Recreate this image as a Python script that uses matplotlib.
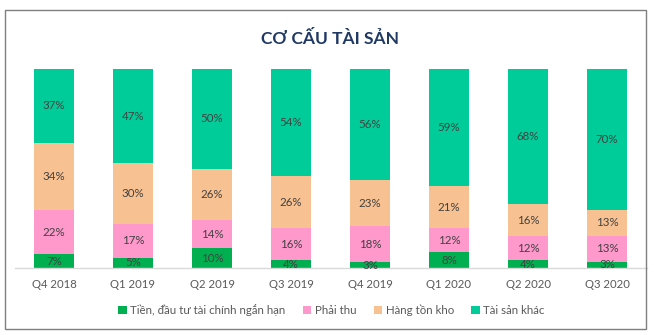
import matplotlib
matplotlib.use("Agg")
import matplotlib.pyplot as plt
import numpy as np
from matplotlib.patches import Rectangle

plt.rcParams['font.family'] = ['Lato', 'DejaVu Sans']

categories = ["Q4 2018", "Q1 2019", "Q2 2019", "Q3 2019", "Q4 2019", "Q1 2020", "Q2 2020", "Q3 2020"]
tien = [7, 5, 10, 4, 3, 8, 4, 3]
phai_thu = [22, 17, 14, 16, 18, 12, 12, 13]
hang_ton_kho = [34, 30, 26, 26, 23, 21, 16, 13]
tai_san_khac = [37, 47, 50, 54, 56, 59, 68, 70]

series_names = ["Tiền, đầu tư tài chính ngắn hạn", "Phải thu", "Hàng tồn kho", "Tài sản khác"]
colors = ["#00B050", "#FF99CC", "#F8C191", "#00CC99"]

data = np.array([tien, phai_thu, hang_ton_kho, tai_san_khac], dtype=float)
totals = data.sum(axis=0)
shares = data / totals * 100

fig = plt.figure(figsize=(6.56, 3.35), dpi=100)
ax = fig.add_axes([14.5 / 656, 67 / 335, (646.5 - 14.5) / 656, 199 / 335])

x = np.arange(len(categories))
bottom = np.zeros(len(categories))
for i, (name, col) in enumerate(zip(series_names, colors)):
    bars = ax.bar(x, shares[i], 0.506, bottom=bottom, color=col, label=name, linewidth=0)
    for j, b in enumerate(bars):
        ax.text(b.get_x() + b.get_width() / 2, bottom[j] + shares[i][j] / 2,
                f"{int(data[i][j])}%", ha="center", va="center", fontsize=8.3, color="#404040")
    bottom += shares[i]

ax.set_xlim(-0.5, len(categories) - 0.5)
ax.set_ylim(0, 100)
ax.set_xticks(x)
ax.set_xticklabels(categories, fontsize=8.2, color="#595959")
ax.tick_params(axis="x", length=0, pad=8)
ax.set_yticks([])
for s in ["top", "right", "left"]:
    ax.spines[s].set_visible(False)
ax.spines["bottom"].set_color("#D9D9D9")
ax.spines["bottom"].set_linewidth(1)

fig.text(0.503, 1 - 38 / 335, "CƠ CẤU TÀI SẢN", ha="center", va="center",
         fontsize=12.5, fontweight="bold", color="#1F3864")

leg = fig.legend(loc="center", bbox_to_anchor=(0.505, 1 - 310 / 335), ncol=4, frameon=False,
                 fontsize=8.3, handlelength=0.75, handleheight=0.75, handletextpad=0.3,
                 columnspacing=1.5, labelcolor="#595959")

fig.patches.append(Rectangle((5 / 656, 1 - 329 / 335), (646 - 5) / 656, (329 - 10) / 335,
                             transform=fig.transFigure, fill=False, edgecolor="#7F7F7F", linewidth=1))

fig.savefig("out.png", dpi=100)
